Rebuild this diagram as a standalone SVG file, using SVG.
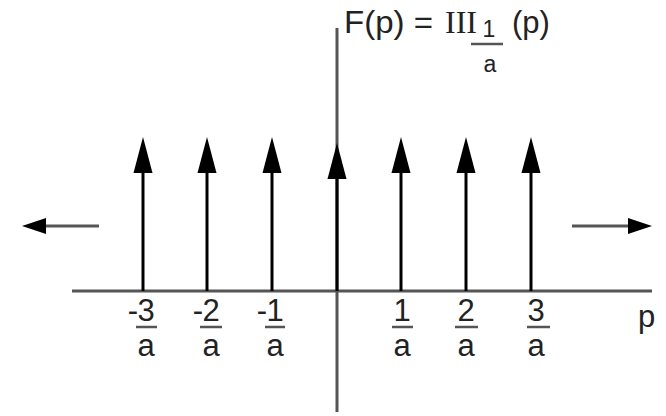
<svg xmlns="http://www.w3.org/2000/svg" xmlns:xlink="http://www.w3.org/1999/xlink" width="666" height="416" viewBox="0 0 666 416">
<style>
.axis{stroke:#555;stroke-width:3;fill:none}
.spike{stroke:#000;stroke-width:3;fill:none}
.harrow{stroke:#555;stroke-width:3;fill:none}
.bar{stroke:#555;stroke-width:2.5}
.t{font-family:"Liberation Sans",Arial,sans-serif;font-size:31px;fill:#222}
.ts{font-family:"Liberation Sans",Arial,sans-serif;font-size:23px;fill:#222}
.sh{font-family:"Liberation Serif","Times New Roman",serif;font-size:32px;fill:#222}
</style>
<defs>
<polygon id="upHead" points="0,0 -9.5,36 9.5,36" fill="#000"/>
<polygon id="lHead" points="0,0 24,-8 24,8" fill="#000"/>
<polygon id="rHead" points="0,0 -24,-8 -24,8" fill="#000"/>
</defs>
<g id="connectors">
<line class="axis" x1="72" y1="291" x2="652" y2="291"/>
<line class="axis" x1="337" y1="28" x2="337" y2="412"/>
<line class="harrow" x1="40" y1="226" x2="99" y2="226"/>
<use xlink:href="#lHead" x="22" y="226"/>
<line class="harrow" x1="572" y1="226" x2="632" y2="226"/>
<use xlink:href="#rHead" x="652" y="226"/>
<g id="spikes">
<line class="spike" x1="143" y1="291" x2="143" y2="165"/><use xlink:href="#upHead" x="143" y="137"/>
<line class="spike" x1="207" y1="291" x2="207" y2="165"/><use xlink:href="#upHead" x="207" y="137"/>
<line class="spike" x1="272" y1="291" x2="272" y2="165"/><use xlink:href="#upHead" x="272" y="137"/>
<line class="spike" x1="337" y1="291" x2="337" y2="170"/><use xlink:href="#upHead" x="337" y="143"/>
<line class="spike" x1="401" y1="291" x2="401" y2="165"/><use xlink:href="#upHead" x="401" y="137"/>
<line class="spike" x1="466" y1="291" x2="466" y2="165"/><use xlink:href="#upHead" x="466" y="137"/>
<line class="spike" x1="531" y1="291" x2="531" y2="165"/><use xlink:href="#upHead" x="531" y="137"/>
</g>
</g>
<g id="title">
<text class="t" x="344" y="33" textLength="89" lengthAdjust="spacingAndGlyphs">F(p) =</text>
<text class="sh" x="445" y="33">III</text>
<text class="ts" x="489" y="37" text-anchor="middle">1</text>
<line class="bar" x1="471" y1="44" x2="503" y2="44"/>
<text class="ts" x="490" y="72" text-anchor="middle">a</text>
<text class="t" x="512" y="33">(p)</text>
</g>
<g id="labels">
<g id="lm3"><text class="t" x="146" y="321" text-anchor="middle">3</text><text class="t" x="138" y="321" text-anchor="end">-</text><line class="bar" x1="136" y1="327" x2="157" y2="327"/><text class="t" x="146" y="356" text-anchor="middle">a</text></g>
<g id="lm2"><text class="t" x="211" y="321" text-anchor="middle">2</text><text class="t" x="203" y="321" text-anchor="end">-</text><line class="bar" x1="200" y1="327" x2="222" y2="327"/><text class="t" x="211" y="356" text-anchor="middle">a</text></g>
<g id="lm1"><text class="t" x="275" y="321" text-anchor="middle">1</text><text class="t" x="267" y="321" text-anchor="end">-</text><line class="bar" x1="265" y1="327" x2="285" y2="327"/><text class="t" x="275" y="356" text-anchor="middle">a</text></g>
<g id="lp1"><text class="t" x="402" y="321" text-anchor="middle">1</text><line class="bar" x1="392" y1="327" x2="413" y2="327"/><text class="t" x="402" y="356" text-anchor="middle">a</text></g>
<g id="lp2"><text class="t" x="466" y="321" text-anchor="middle">2</text><line class="bar" x1="455" y1="327" x2="478" y2="327"/><text class="t" x="466" y="356" text-anchor="middle">a</text></g>
<g id="lp3"><text class="t" x="536" y="321" text-anchor="middle">3</text><line class="bar" x1="527" y1="327" x2="550" y2="327"/><text class="t" x="536" y="356" text-anchor="middle">a</text></g>
<text class="t" x="638" y="327">p</text>
</g>
</svg>
